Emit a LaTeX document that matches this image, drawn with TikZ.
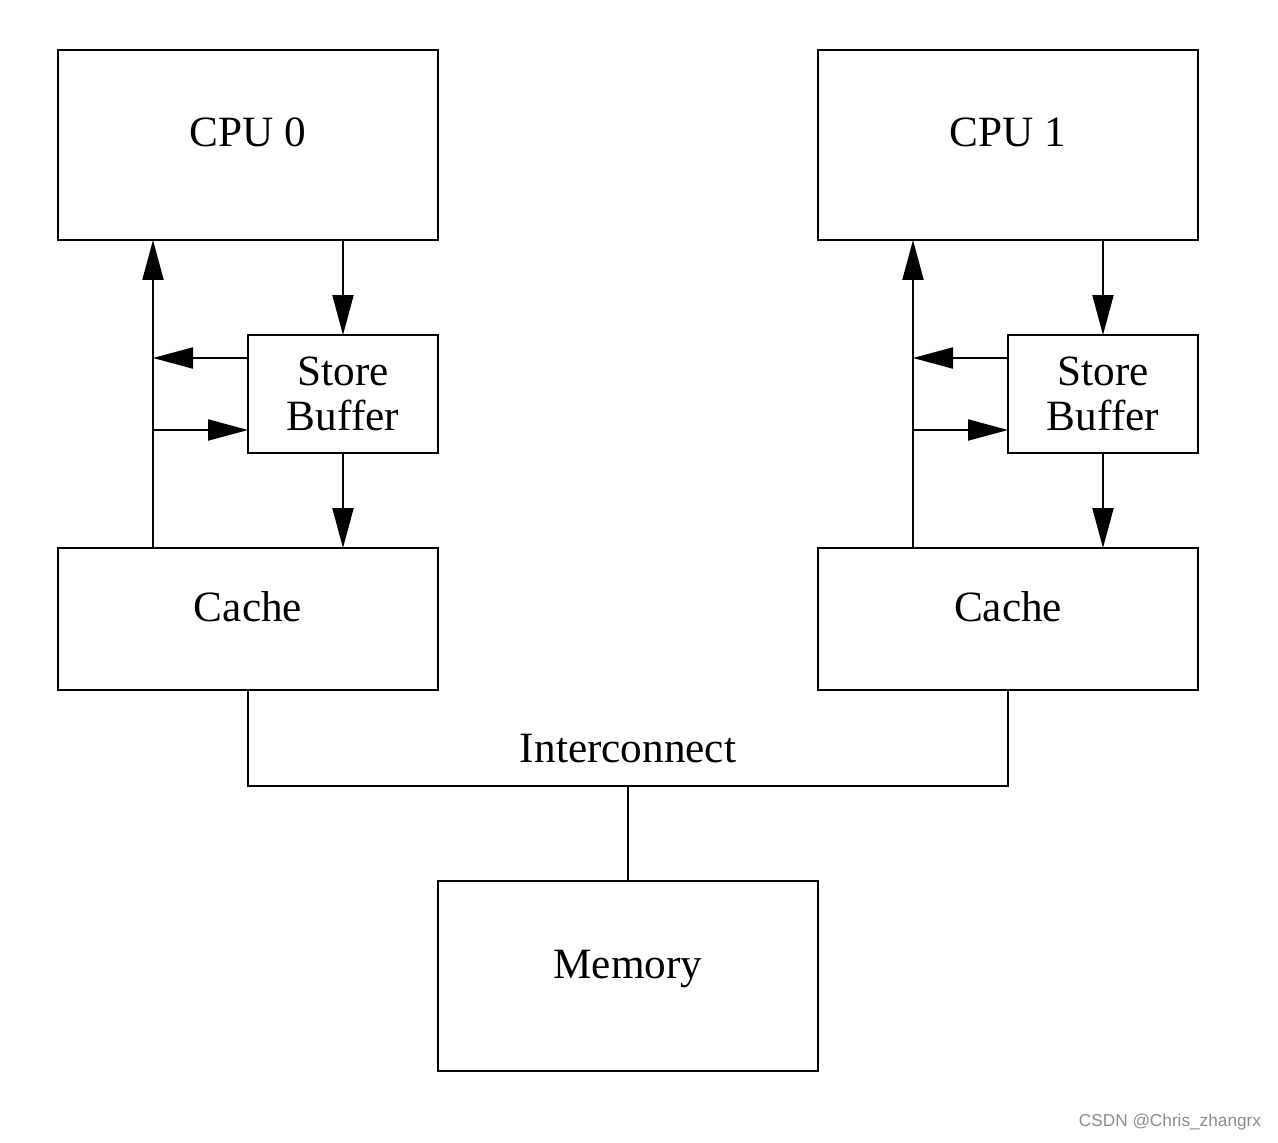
\documentclass[tikz,border=0pt]{standalone}
\usepackage{fontspec}
\setmainfont{Liberation Serif}
\newfontfamily\marksans{Liberation Sans}
\usetikzlibrary{arrows.meta}

\begin{document}
\begin{tikzpicture}[every node/.style={outer sep=0pt, font=\fontsize{12.3}{13}\selectfont},
  unit/.style={draw, line width=0.6pt, minimum width=3.8cm, text height=3mm, text depth=2.6mm},
  sbox/.style={draw, line width=0.6pt, minimum width=1.9cm, minimum height=1.18cm, align=center},
  arr/.style={line width=0.6pt, -{Triangle[length=4mm, width=2.1mm]}},
  wire/.style={line width=0.6pt}]
\useasboundingbox (0,0) rectangle (12.78,11.42);

\node[unit, minimum height=1.9cm] (cpu0) at (2.48,9.97) {CPU 0};
\node[unit, minimum height=1.9cm] (cpu1) at (10.08,9.97) {CPU 1};
\node[sbox] (sb0) at (3.43,7.48) {Store\\Buffer};
\node[sbox] (sb1) at (11.03,7.48) {Store\\Buffer};
\node[unit, minimum height=1.42cm] (cache0) at (2.48,5.23) {Cache};
\node[unit, minimum height=1.42cm] (cache1) at (10.08,5.23) {Cache};
\node[unit, minimum height=1.9cm] (mem) at (6.28,1.66) {Memory};

\coordinate (bus0) at (1.53,7.48);
\coordinate (bus1) at (9.13,7.48);
\coordinate (icon) at (6.28,3.56);
\node (ilabel) at (6.28,3.93) {Interconnect};

\draw[arr] (cache0.north -| bus0) -- (cpu0.south -| bus0);
\draw[arr] (cpu0.south -| sb0.north) -- (sb0.north);
\draw[arr] (sb0.south) -- (sb0.south |- cache0.north);
\draw[arr] ([yshift=3.6mm]sb0.west) -- ([yshift=3.6mm]sb0.west -| bus0);
\draw[arr] ([yshift=-3.6mm]sb0.west -| bus0) -- ([yshift=-3.6mm]sb0.west);

\draw[arr] (cache1.north -| bus1) -- (cpu1.south -| bus1);
\draw[arr] (cpu1.south -| sb1.north) -- (sb1.north);
\draw[arr] (sb1.south) -- (sb1.south |- cache1.north);
\draw[arr] ([yshift=3.6mm]sb1.west) -- ([yshift=3.6mm]sb1.west -| bus1);
\draw[arr] ([yshift=-3.6mm]sb1.west -| bus1) -- ([yshift=-3.6mm]sb1.west);

\draw[wire] (cache0.south) |- (icon) -| (cache1.south);
\draw[wire] (icon) -- (mem.north);

\node[text=black!45, font=\marksans\fontsize{4.9}{6}\selectfont] (mark) at (11.70,0.20) {CSDN @Chris\_zhangrx};
\end{tikzpicture}
\end{document}
